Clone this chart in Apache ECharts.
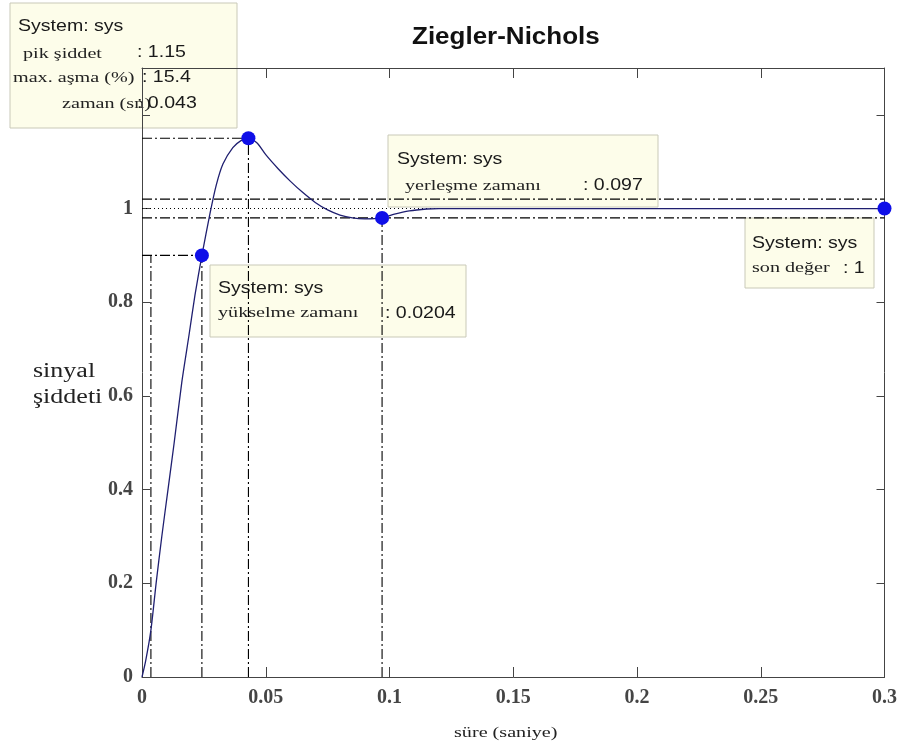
<!DOCTYPE html>
<html>
<head>
<meta charset="utf-8">
<script src="https://cdn.jsdelivr.net/npm/echarts@6/dist/echarts.min.js"></script>
<style>
html,body{margin:0;padding:0;background:#fff;}
#chart{width:900px;height:754px;}
</style>
</head>
<body>
<div id="chart"></div>
<script>
// ---- data ----
const time = [0, 0.0015, 0.0036, 0.0057, 0.008, 0.0105, 0.013, 0.0161, 0.019, 0.0214, 0.0242, 0.0275, 0.030, 0.0327, 0.0367, 0.040, 0.043, 0.0465, 0.050, 0.055, 0.060, 0.065, 0.070, 0.075, 0.080, 0.085, 0.090, 0.097, 0.102, 0.108, 0.115, 0.120, 0.150, 0.200, 0.250, 0.300];
const response = [0, 0.035, 0.10, 0.20, 0.30, 0.40, 0.50, 0.63, 0.73, 0.815, 0.90, 0.99, 1.05, 1.095, 1.13, 1.145, 1.15, 1.14, 1.115, 1.085, 1.058, 1.034, 1.013, 0.997, 0.986, 0.980, 0.978, 0.980, 0.988, 0.995, 0.999, 1.0, 1.0, 1.0, 1.0, 1.0];

const riseLowTime = 0.0036, riseHighTime = 0.0242, riseLevel = 0.9, riseTime = 0.0204;
const peakTime = 0.043, peakValue = 1.15, overshootPct = 15.4;
const settleTime = 0.097, settleValue = 0.98, settleBand = [0.98, 1.02];
const finalValue = 1, tEnd = 0.3;

const xTitle = 'süre (saniye)';
const yTitle = ['sinyal', 'şiddeti'];
const chartTitle = 'Ziegler-Nichols';

// ---- chart ----
const chart = echarts.init(document.getElementById('chart'), null, {renderer: 'canvas'});
const DASHDOT = [10, 3, 2, 3];
function seg(p1, p2, dash) {
  return {
    type: 'line', data: [p1, p2], symbol: 'none', silent: true, z: 1,
    lineStyle: {color: '#000', width: 1.1, type: dash}, animation: false
  };
}
const helperLines = [
  seg([0, riseLevel], [riseHighTime, riseLevel], DASHDOT),
  seg([riseLowTime, 0], [riseLowTime, riseLevel], DASHDOT),
  seg([riseHighTime, 0], [riseHighTime, riseLevel], DASHDOT),
  seg([0, peakValue], [peakTime, peakValue], DASHDOT),
  seg([peakTime, 0], [peakTime, peakValue], DASHDOT),
  seg([0, settleBand[1]], [tEnd, settleBand[1]], DASHDOT),
  seg([0, settleBand[0]], [tEnd, settleBand[0]], DASHDOT),
  seg([settleTime, 0], [settleTime, settleValue], DASHDOT),
  seg([0, finalValue], [tEnd, finalValue], [1, 3])
];

const SERIF = '"Liberation Serif", "Times New Roman", serif';
const SANS = '"Liberation Sans", Arial, sans-serif';
function sans(txt, x, y) {
  return {type: 'text', x: x, y: y, scaleX: 1.15,
    style: {text: txt, font: '17px ' + SANS, fill: '#1a1a1a', textAlign: 'left', textVerticalAlign: 'middle'}};
}
function serif(txt, x, y) {
  return {type: 'text', x: x, y: y, scaleX: 1.3,
    style: {text: txt, font: '15.5px ' + SERIF, fill: '#222', textAlign: 'left', textVerticalAlign: 'middle'}};
}
function box(x, y, w, h, children) {
  return {type: 'group', z: 100, children: [
    {type: 'rect', shape: {x: x, y: y, width: w, height: h},
     style: {fill: '#fdfdea', stroke: '#c9c9b8', lineWidth: 1}}
  ].concat(children)};
}

const graphics = [
  {type: 'text', x: 412, y: 38, scaleX: 1.13, z: 100,
   style: {text: chartTitle, font: 'bold 23px ' + SANS, fill: '#111', textAlign: 'left', textVerticalAlign: 'middle'}},
  {type: 'text', x: 33, y: 372, scaleX: 1.3, z: 100,
   style: {text: yTitle[0], font: '20px ' + SERIF, fill: '#222', textAlign: 'left', textVerticalAlign: 'middle'}},
  {type: 'text', x: 33, y: 398, scaleX: 1.3, z: 100,
   style: {text: yTitle[1], font: '20px ' + SERIF, fill: '#222', textAlign: 'left', textVerticalAlign: 'middle'}},
  {type: 'text', x: 454, y: 733, scaleX: 1.3, z: 100,
   style: {text: xTitle, font: '15.5px ' + SERIF, fill: '#222', textAlign: 'left', textVerticalAlign: 'middle'}},
  box(10, 3, 227, 125, [
    sans('System: sys', 18, 26),
    serif('pik şiddet', 23, 54),
    sans(': ' + peakValue, 137, 52),
    serif('max. aşma (%)', 13, 78),
    sans(': ' + overshootPct, 142, 77),
    serif('zaman (sn)', 62, 104),
    sans(': ' + peakTime, 137, 103)
  ]),
  box(210, 265, 256, 72, [
    sans('System: sys', 218, 288),
    serif('yükselme zamanı', 218, 313),
    sans(': ' + riseTime, 385, 313)
  ]),
  box(388, 135, 270, 72, [
    sans('System: sys', 397, 159),
    serif('yerleşme zamanı', 405, 186),
    sans(': ' + settleTime, 583, 185)
  ]),
  box(745, 218, 129, 70, [
    sans('System: sys', 752, 243),
    serif('son değer', 752, 268),
    sans(': ' + finalValue, 843, 268)
  ])
];

const axisLineStyle = {color: '#444', width: 1};
const option = {
  backgroundColor: '#fff',
  animation: false,
  grid: {left: 142, right: 15, top: 68, bottom: 77, containLabel: false, show: false},
  xAxis: [
    {type: 'value', min: 0, max: tEnd, interval: 0.05, position: 'bottom',
     axisLine: {show: true, onZero: false, lineStyle: axisLineStyle},
     axisTick: {show: true, inside: true, length: 10, lineStyle: axisLineStyle},
     axisLabel: {margin: 11, fontFamily: SERIF, fontWeight: 'bold', fontSize: 20, color: '#454545',
                 formatter: v => String(+v.toFixed(2))},
     splitLine: {show: false}},
    {type: 'value', min: 0, max: tEnd, interval: 0.05, position: 'top',
     axisLine: {show: true, onZero: false, lineStyle: axisLineStyle},
     axisTick: {show: true, inside: true, length: 10, lineStyle: axisLineStyle},
     axisLabel: {show: false}, splitLine: {show: false}}
  ],
  yAxis: [
    {type: 'value', min: 0, max: 1.3, interval: 0.2, position: 'left',
     axisLine: {show: true, onZero: false, lineStyle: axisLineStyle},
     axisTick: {show: true, inside: true, length: 8, lineStyle: axisLineStyle},
     axisLabel: {margin: 9, fontFamily: SERIF, fontWeight: 'bold', fontSize: 20, color: '#454545',
                 showMaxLabel: false, formatter: v => (v > 1.1 ? '' : String(+v.toFixed(2)))},
     splitLine: {show: false}},
    {type: 'value', min: 0, max: 1.3, interval: 0.2, position: 'right',
     axisLine: {show: true, onZero: false, lineStyle: axisLineStyle},
     axisTick: {show: true, inside: true, length: 8, lineStyle: axisLineStyle},
     axisLabel: {show: false}, splitLine: {show: false}}
  ],
  series: helperLines.concat([
    {type: 'line', name: 'sys', data: time.map((t, i) => [t, response[i]]),
     symbol: 'none', smooth: 0.25, z: 3,
     lineStyle: {color: '#1f1f70', width: 1.3}},
    {type: 'scatter', clip: false, z: 5, symbolSize: 14,
     itemStyle: {color: '#0f0fe8', opacity: 1},
     data: [[riseHighTime, riseLevel], [peakTime, peakValue], [settleTime, settleValue], [tEnd, finalValue]]}
  ]),
  graphic: graphics
};
chart.setOption(option);
</script>
</body>
</html>
